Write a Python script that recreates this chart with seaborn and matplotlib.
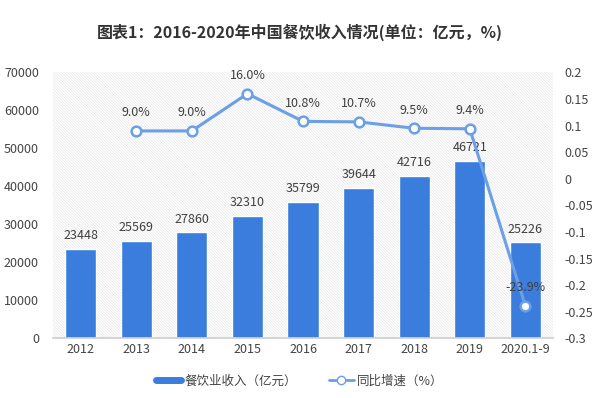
import matplotlib
matplotlib.use('Agg')
import matplotlib.pyplot as plt
import seaborn as sns
import numpy as np
import pandas as pd
from matplotlib.patches import Rectangle
from matplotlib.lines import Line2D
from matplotlib.ticker import FuncFormatter

years = ['2012', '2013', '2014', '2015', '2016', '2017', '2018', '2019', '2020.1-9']
revenue = [23448, 25569, 27860, 32310, 35799, 39644, 42716, 46721, 25226]
growth_years = ['2013', '2014', '2015', '2016', '2017', '2018', '2019', '2020.1-9']
growth = [0.090, 0.090, 0.160, 0.108, 0.107, 0.095, 0.094, -0.239]

bar_color = '#3b7ddd'
line_color = '#6b9fe6'

sns.set_theme(style='white')
plt.rcParams['font.family'] = ['Noto Sans CJK SC', 'DejaVu Sans']
plt.rcParams['hatch.linewidth'] = 0.4
plt.rcParams['hatch.color'] = '#e2e2e2'

fig, ax = plt.subplots(figsize=(6, 3.98), dpi=100)
fig.subplots_adjust(left=0.088, right=0.922, top=0.818, bottom=0.15)

# light diagonal hatch behind the plot area
bg = Rectangle((0, 0), 1, 1, transform=ax.transAxes, facecolor='white',
               edgecolor='#e2e2e2', hatch='\\' * 12, linewidth=0, zorder=0)
ax.add_patch(bg)

df = pd.DataFrame({'year': years, 'revenue': revenue})
sns.barplot(data=df, x='year', y='revenue', color=bar_color, width=0.56,
            saturation=1, ax=ax, zorder=2)
ax.set_ylim(0, 70000)
ax.set_yticks(range(0, 70001, 10000))
ax.set_xlim(-0.5, len(years) - 0.5)
ax.set_xlabel('')
ax.set_ylabel('')
ax.tick_params(axis='both', length=0, labelsize=9, colors='#444444')
ax.tick_params(axis='y', pad=10)
for s in ['top', 'right', 'left']:
    ax.spines[s].set_visible(False)
ax.spines['bottom'].set_color('#d0d0d0')
for i, v in enumerate(revenue):
    ax.text(i, v + 1800, str(v), ha='center', va='bottom', fontsize=9, color='#404040')

ax2 = ax.twinx()
pos = [years.index(y) for y in growth_years]
sns.lineplot(x=pos, y=growth, ax=ax2, color=line_color, linewidth=2.2,
             marker='o', markersize=7, markerfacecolor='white',
             markeredgecolor=line_color, markeredgewidth=1.8, zorder=3)
ax2.set_ylim(-0.3, 0.2)
ax2.set_yticks(np.linspace(-0.3, 0.2, 11))
ax2.yaxis.set_major_formatter(FuncFormatter(lambda v, p: f'{round(v, 2):g}'))
ax2.tick_params(axis='y', length=0, labelsize=9, colors='#444444', pad=8)
for s in ax2.spines.values():
    s.set_visible(False)
for x, g in zip(pos, growth):
    ax2.text(x, g + 0.022, f'{g * 100:.1f}%', ha='center', va='bottom',
             fontsize=9, color='#404040')

fig.suptitle('图表1：2016-2020年中国餐饮收入情况(单位：亿元，%)', fontsize=11.5,
             fontweight='bold', color='#333333', y=0.94)

handles = [Line2D([0], [0], color=bar_color, linewidth=5),
           Line2D([0], [0], color=line_color, linewidth=2, marker='o',
                  markerfacecolor='white', markeredgecolor=line_color, markersize=6)]
fig.legend(handles, ['餐饮业收入（亿元）', '同比增速（%）'], loc='center',
           bbox_to_anchor=(0.5, 0.042), ncol=2, frameon=False, fontsize=9,
           handlelength=2.0, handletextpad=0.3, columnspacing=2.5,
           labelcolor='#444444')

plt.savefig('out.png', dpi=100)
